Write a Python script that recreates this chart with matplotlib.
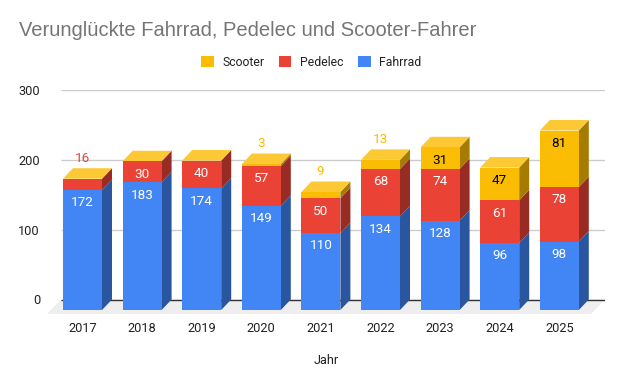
import matplotlib
matplotlib.use("Agg")
import matplotlib.pyplot as plt
from matplotlib.patches import Patch

years = ["2017", "2018", "2019", "2020", "2021", "2022", "2023", "2024", "2025"]
fahrrad = [172, 183, 174, 149, 110, 134, 128, 96, 98]
pedelec = [16, 30, 40, 57, 50, 68, 74, 61, 78]
scooter = [0, 0, 0, 3, 9, 13, 31, 47, 81]

W, H = 624, 386
plt.rcParams["font.family"] = ["Roboto", "DejaVu Sans"]
fig = plt.figure(figsize=(W / 100, H / 100), dpi=100)
L, R, T, B = 47, 605, 90, 314
ax = fig.add_axes([L / W, 1 - B / H, (R - L) / W, (B - T) / H])

PX_Y = (299.5 - 90) / 300      # pixels per value unit
PX_X = 59.6                    # pixels per category
ax.set_ylim(-(B - 299.5) / PX_Y, 300)
ax.set_xlim((L - 82.5) / PX_X, (R - 82.5) / PX_X)
for s in ax.spines.values():
    s.set_visible(False)

dx = 10 / PX_X                 # 3D depth in data units
dy = 10.5 / PX_Y
floor_dy = (B - 299.5) / PX_Y
floor_dx = 14 / PX_X
x0, x1 = ax.get_xlim()
gl = x0 + floor_dx

# floor and gridlines
ax.fill([gl, x1, x1 - floor_dx, x0], [0, 0, -floor_dy, -floor_dy],
        color="#eeeeee", lw=0, zorder=1)
for v, c in [(100, "#cccccc"), (200, "#cccccc"), (300, "#cccccc"), (0, "#333333")]:
    ax.plot([gl, x1], [v, v], color=c, lw=1.0, zorder=1.5, solid_capstyle="butt")

series = [
    (fahrrad, "#4285f4", "#2a56a0", "white"),
    (pedelec, "#ea4335", "#982b24", "white"),
    (scooter, "#fbbc04", "#a67c00", "black"),
]
TOP = "#fcc934"
bw = 39 / PX_X
base = -dy
to_pt = 72 / 100

for i, yr in enumerate(years):
    z = 3 + i
    bottom = base
    for vals, col, side, tc in series:
        v = vals[i]
        if v == 0:
            continue
        top = bottom + v
        ax.bar(i, v, bottom=bottom, width=bw, color=col, lw=0, zorder=z + 0.2)
        xr = i + bw / 2
        ax.fill([xr, xr + dx, xr + dx, xr],
                [bottom, bottom + dy, top + dy, top],
                color=side, lw=0, zorder=z)
        if v >= 20:
            ax.annotate(str(v), (i, top), xytext=(0, -12.8 * to_pt),
                        textcoords="offset points", ha="center", va="center",
                        color=tc, fontsize=9.7, zorder=z + 1)
        else:
            ax.annotate(str(v), (i, bottom + v + dy), xytext=(-0.5 * to_pt, 10 * to_pt),
                        textcoords="offset points", ha="center", va="center",
                        color=col, fontsize=9.7, zorder=z + 1)
        bottom = top
    xl, xr = i - bw / 2, i + bw / 2
    ax.fill([xl, xr, xr + dx, xl + dx], [bottom, bottom, bottom + dy, bottom + dy],
            color=TOP, lw=0, zorder=z + 0.1)

ax.set_xticks(range(len(years)), years)
ax.set_yticks([0, 100, 200, 300])
ax.tick_params(axis="both", length=0, labelsize=9.2, labelcolor="#222222")
ax.tick_params(axis="y", pad=7 * to_pt)
ax.tick_params(axis="x", pad=8 * to_pt)
ax.set_xlabel("Jahr", fontsize=9.2, color="#222222", labelpad=19 * to_pt)

fig.text(19 / W, 1 - 31 / H, "Verunglückte Fahrrad, Pedelec und Scooter-Fahrer",
         family="Liberation Sans", fontsize=14.5, color="#757575", ha="left", va="center")

handles = [Patch(color="#fbbc04", lw=0), Patch(color="#ea4335", lw=0), Patch(color="#4285f4", lw=0)]
fig.legend(handles, ["Scooter", "Pedelec", "Fahrrad"], ncol=3, frameon=False,
           loc="center", bbox_to_anchor=(311.5 / W, 1 - 62.5 / H), fontsize=8.8,
           handlelength=1.0, handleheight=1.0, handletextpad=0.72,
           columnspacing=1.2, labelcolor="#222222", borderpad=0, borderaxespad=0)

fig.savefig("out.png", dpi=100, facecolor="white")
